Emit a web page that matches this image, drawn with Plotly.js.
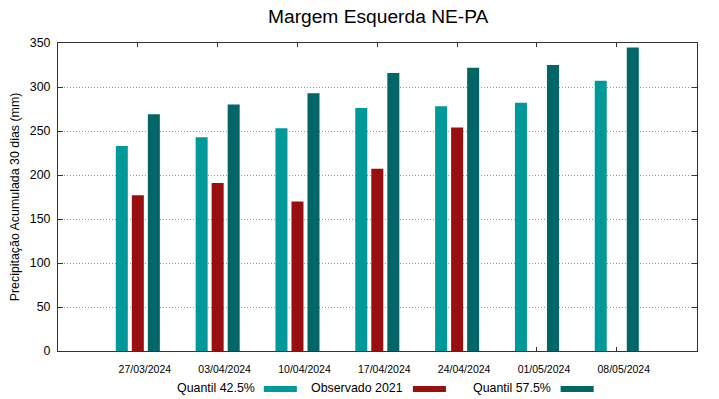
<!DOCTYPE html>
<html>
<head>
<meta charset="utf-8">
<script src="https://cdn.plot.ly/plotly-3.0.1.min.js"></script>
<style>html,body{margin:0;padding:0;background:#fff;}#chart{width:719px;height:399px;}</style>
</head>
<body>
<div id="chart"></div>
<script>
var categories = ["27/03/2024","03/04/2024","10/04/2024","17/04/2024","24/04/2024","01/05/2024","08/05/2024"];
var quantil425 = [233, 243, 253, 276, 278, 282, 307];
var observado2021 = [177, 191, 170, 207, 254, null, null];
var quantil575 = [269, 280, 293, 316, 322, 325, 345];
var seriesNames = ["Quantil 42.5%", "Observado 2021", "Quantil 57.5%"];
var seriesColors = ["#009999", "#990f0f", "#006666"];
var yTicks = [0, 50, 100, 150, 200, 250, 300, 350];

var seriesValues = [quantil425, observado2021, quantil575];
var traces = seriesValues.map(function(vals, i){
  return {
    type: "bar", x: categories, y: vals, name: seriesNames[i],
    marker: {color: seriesColors[i], line: {width: 0}},
    showlegend: false, hoverinfo: "x+y+name"
  };
});

var fontFam = "Liberation Sans, Arial, sans-serif";
var annotations = [], shapes = [];
var textRight = [0.3117, 0.5431, 0.7745];
var swLeft = [0.3221, 0.5554, 0.7866];
var swW = 0.0517;
for (var i = 0; i < 3; i++) {
  annotations.push({xref:"paper", yref:"paper", x:textRight[i], y:-0.1203, xanchor:"right", yanchor:"middle",
    text: seriesNames[i], showarrow:false, font:{family:fontFam, size:12.4, color:"#000"}});
  shapes.push({type:"rect", xref:"paper", yref:"paper", x0:swLeft[i], x1:swLeft[i]+swW, y0:-0.1333, y1:-0.1138,
    fillcolor: seriesColors[i], line:{width:0}});
}

var layout = {
  width: 719, height: 399,
  margin: {l:58, r:22, t:43, b:48},
  paper_bgcolor: "#fff", plot_bgcolor: "#fff",
  font: {family: fontFam, color: "#000"},
  title: {text: "Margem Esquerda NE-PA", x: 0.526, xanchor: "center", y: 0.96, yanchor: "middle",
          font: {family: fontFam, size: 19.2, color: "#000"}},
  barmode: "group", bargap: 0.398, bargroupgap: 0.25,
  xaxis: {
    type: "category", categoryorder: "array", categoryarray: categories,
    range: [-1, 7.005], showgrid: false, zeroline: false,
    showline: true, linecolor: "#333", linewidth: 1, mirror: "ticks",
    ticks: "inside", ticklen: 4, tickcolor: "#333",
    tickfont: {family: fontFam, size: 10.5, color: "#000"},
    ticklabelshift: 7, ticklabelstandoff: 8
  },
  yaxis: {
    range: [0, 350], tickvals: yTicks, showgrid: true, gridcolor: "#999", griddash: "1px,2px", gridwidth: 1,
    zeroline: false, showline: true, linecolor: "#333", linewidth: 1, mirror: "ticks",
    ticks: "inside", ticklen: 5, tickcolor: "#333",
    tickfont: {family: fontFam, size: 12.4, color: "#000"}, ticklabelstandoff: 4,
    title: {text: "Precipitação Acumulada 30 dias (mm)", font: {family: fontFam, size: 12.4, color: "#000"}, standoff: 7}
  },
  annotations: annotations, shapes: shapes
};

Plotly.newPlot("chart", traces, layout, {displayModeBar: false, staticPlot: true});
</script>
</body>
</html>
